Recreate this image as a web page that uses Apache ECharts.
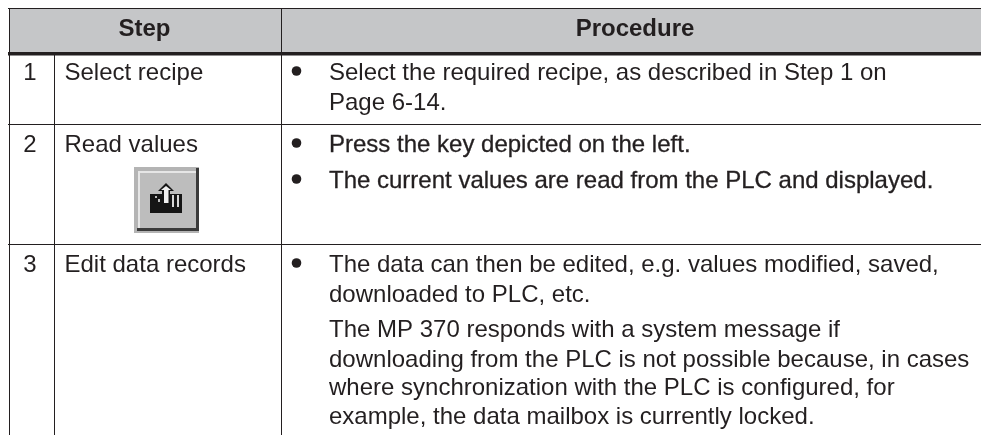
<!DOCTYPE html>
<html><head><meta charset="utf-8">
<style>html,body{margin:0;padding:0;background:#fff}#c{width:981px;height:435px}</style>
<script src="https://cdn.jsdelivr.net/npm/echarts@6/dist/echarts.min.js"></script>
</head><body><div id="c"></div>
<script>
const headers = ["Step", "Procedure"];
const stepNumbers = ["1", "2", "3"];
const stepNames = ["Select recipe", "Read values", "Edit data records"];
const procedure1 = ["Select the required recipe, as described in Step 1 on", "Page 6-14."];
const procedure2 = ["Press the key depicted on the left.", "The current values are read from the PLC and displayed."];
const procedure3a = ["The data can then be edited, e.g. values modified, saved,", "downloaded to PLC, etc."];
const procedure3b = ["The MP 370 responds with a system message if", "downloading from the PLC is not possible because, in cases", "where synchronization with the PLC is configured, for", "example, the data mailbox is currently locked."];

const INK = "#231f20", FONT = "'Liberation Sans', Arial, sans-serif", SIZE = 24;
const g = [];
const rect = (x, y, w, h, fill) => g.push({type:"rect", shape:{x, y, width:w, height:h}, style:{fill}, silent:true});
const text = (t, x, y, opt = {}) => g.push({type:"text", x, y, silent:true, style:Object.assign({
  text:t, fill:INK, font:`${SIZE}px ${FONT}`, textAlign:"left", textVerticalAlign:"middle", textBaseline:"middle"}, opt)});
const bullet = (y) => g.push({type:"circle", shape:{cx:296.5, cy:y, r:4.8}, style:{fill:INK}, silent:true});

// header + rules
rect(9, 8, 972, 45, "#c5c6c8");
rect(8, 8, 973, 1, INK);
rect(8, 52, 973, 3.5, INK);
rect(8, 124, 973, 1, INK);
rect(8, 244, 973, 1, INK);
rect(9, 8, 1, 427, INK);
rect(54, 55, 1, 380, INK);
rect(281, 8, 1, 427, INK);

const bold = `bold 24px ${FONT}`;
text(headers[0], 144.5, 29.5, {font:bold, textAlign:"center"});
text(headers[1], 635, 29.5, {font:bold, textAlign:"center"});

const rowY = [73, 145, 265];
stepNumbers.forEach((s, i) => {
  text(s, 30, rowY[i], {textAlign:"center"});
  text(stepNames[i], 64.5, rowY[i]);
});

bullet(71);
text(procedure1[0], 329, 73);
text(procedure1[1], 329, 103);

bullet(143);
text(procedure2[0], 329, 145, {stroke:INK, lineWidth:0.3});
bullet(179);
text(procedure2[1], 329, 181, {stroke:INK, lineWidth:0.3});

bullet(263);
[265, 295].forEach((y, i) => text(procedure3a[i], 329, y));
[330, 360, 388, 417].forEach((y, i) => text(procedure3b[i], 329, y));

// key icon
rect(134, 167, 65, 66, "#b4b4b4");
rect(138, 171, 58, 58, "#e6e6e6");
rect(140, 173, 56, 55, "#bdbdbd");
rect(196, 168, 3, 63, "#3a3a3a");
rect(137, 228, 62, 3, "#3a3a3a");
rect(150, 194, 32, 19, "#151515");
rect(155, 196, 2, 2, "#bdbdbd");
rect(158, 199, 2, 3, "#bdbdbd");
rect(172, 195, 2, 12, "#d8d8d8");
rect(177, 195, 2, 12, "#d8d8d8");
g.push({type:"polygon", shape:{points:[[166,183],[174,191],[170,191],[170,204],[162,204],[162,191],[158,191]]}, style:{fill:"#151515"}, silent:true});
g.push({type:"polygon", shape:{points:[[166,186],[171,190],[168.5,190],[168.5,203],[164,203],[164,190],[161,190]]}, style:{fill:"#f0f0f0"}, silent:true});

const chart = echarts.init(document.getElementById("c"), null, {renderer:"canvas"});
chart.setOption({animation:false, backgroundColor:"#fff", graphic:{elements:g}});
</script></body></html>
